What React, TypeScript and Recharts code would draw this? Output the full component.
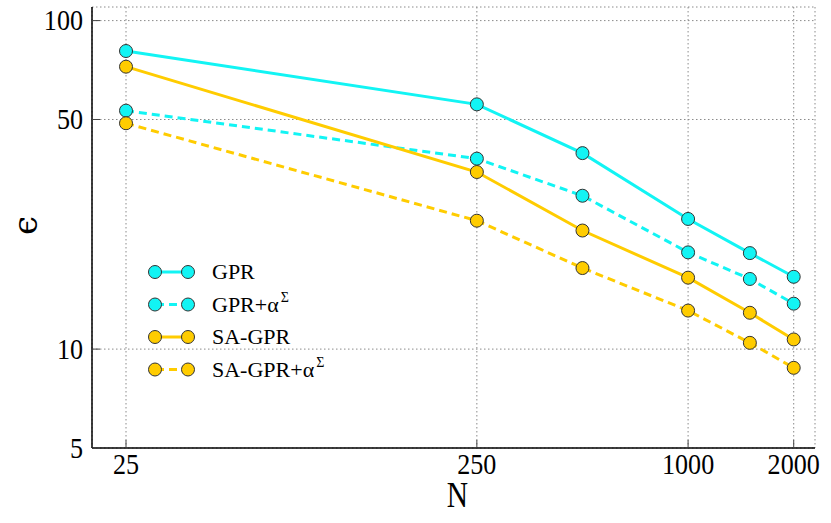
import { LineChart, Line, XAxis, YAxis, CartesianGrid, Legend } from 'recharts';

// training-set sizes and errors for each model
const sizes = [25, 250, 500, 1000, 1500, 2000];
const gpr = [80.8, 55.6, 39.5, 24.9, 19.6, 16.6];
const gprAlpha = [53.2, 38.0, 29.3, 19.7, 16.35, 13.75];
const saGpr = [72.4, 34.6, 22.96, 16.5, 12.9, 10.7];
const saGprAlpha = [48.7, 24.6, 17.65, 13.1, 10.45, 8.77];

const xTicks = [25, 250, 1000, 2000];
const xMinorTicks = [30, 40, 50, 60, 70, 80, 90, 200, 300, 400, 500, 600, 700, 800, 900];
const yTicks = [5, 10, 50, 100];
const yMinorTicks = [6, 7, 8, 9, 20, 30, 40, 60, 70, 80, 90];

const xDomain = [20, 2300];
const yDomain = [5, 110];

const CYAN = '#12f4f4';
const GOLD = '#ffcc00';
const SERIF = '"Liberation Serif", "DejaVu Serif", serif';

const series = [
    { key: 'gpr', label: 'GPR', sup: '', color: CYAN, dash: undefined as string | undefined },
    { key: 'gprAlpha', label: 'GPR+α', sup: 'Σ', color: CYAN, dash: '8 5' },
    { key: 'saGpr', label: 'SA-GPR', sup: '', color: GOLD, dash: undefined as string | undefined },
    { key: 'saGprAlpha', label: 'SA-GPR+α', sup: 'Σ', color: GOLD, dash: '8 5' },
];

const rows = sizes.map((n, i) => ({
    n,
    gpr: gpr[i],
    gprAlpha: gprAlpha[i],
    saGpr: saGpr[i],
    saGprAlpha: saGprAlpha[i],
}));

// eslint-disable-next-line @typescript-eslint/no-explicit-any
function AxisTick(props: any) {
    const { x, y, payload, textAnchor, side } = props;
    return (
        <text
            transform={`translate(${x},${y}) scale(0.9,1)`}
            textAnchor={textAnchor}
            dy={side === 'bottom' ? '0.72em' : '0.34em'}
            fill="#000"
            fontFamily={SERIF}
            fontSize={29}
        >
            {payload.value}
        </text>
    );
}

// eslint-disable-next-line @typescript-eslint/no-explicit-any
function YTitle(props: any) {
    const vb = props.viewBox || { x: 0, y: 0, width: 0, height: 0 };
    const cx = vb.x + 37;
    const cy = vb.y + vb.height / 2 - 2;
    return (
        <text
            x={cx}
            y={cy}
            transform={`rotate(-90 ${cx} ${cy})`}
            textAnchor="middle"
            fontFamily='"DejaVu Serif", serif'
            fontSize={34}
            fill="#000"
        >
            ϵ
        </text>
    );
}

// eslint-disable-next-line @typescript-eslint/no-explicit-any
function XTitle(props: any) {
    const vb = props.viewBox || { x: 0, y: 0, width: 0, height: 0 };
    return (
        <text
            transform={`translate(${vb.x + vb.width / 2 + 4},${vb.y + 59}) scale(0.82,1)`}
            textAnchor="middle"
            fontFamily={SERIF}
            fontSize={36}
            fill="#000"
        >
            N
        </text>
    );
}

function LegendBox() {
    return (
        <svg width={200} height={130}>
            {series.map((s, i) => {
                const y = 17 + i * 32.5;
                return (
                    <g key={s.key}>
                        <line x1={15} x2={48} y1={y} y2={y} stroke={s.color} strokeWidth={3} strokeDasharray={s.dash} strokeDashoffset={s.dash ? -1 : 0} />
                        <circle cx={15} cy={y} r={6.5} fill={s.color} stroke="#333" strokeWidth={1} />
                        <circle cx={48} cy={y} r={6.5} fill={s.color} stroke="#333" strokeWidth={1} />
                        <text x={72} y={y + 7} fontFamily={SERIF} fontSize={22} fill="#000">
                            {s.label}
                            {s.sup && (
                                <tspan dy={-10} dx={2} fontSize={14}>
                                    {s.sup}
                                </tspan>
                            )}
                        </text>
                    </g>
                );
            })}
        </svg>
    );
}

const axisBase = {
    type: 'number' as const,
    scale: 'log' as const,
    allowDataOverflow: true,
    interval: 0 as const,
};

export default function App() {
    const frame = { stroke: '#000', strokeWidth: 1.5 };
    const tickStroke = { stroke: '#444', strokeWidth: 1 };
    return (
        <div style={{ position: 'absolute', left: 0, top: 0, width: 831, height: 523, background: '#fff' }}>
            <LineChart width={831} height={523} data={rows} margin={{ top: 7, right: 16, bottom: 0, left: 0 }}>
                {/* zero-size axes first so they sit on the frame edges */}
                <XAxis xAxisId="xMinor" dataKey="n" {...axisBase} domain={xDomain} ticks={xMinorTicks} tick={false} tickSize={-4} tickLine={tickStroke} axisLine={false} height={0} />
                <XAxis xAxisId="xTop" orientation="top" dataKey="n" {...axisBase} domain={xDomain} ticks={xTicks} tick={false} tickSize={-8} tickLine={tickStroke} axisLine={frame} height={0} />
                <XAxis xAxisId="xTopMinor" orientation="top" dataKey="n" {...axisBase} domain={xDomain} ticks={xMinorTicks} tick={false} tickSize={-4} tickLine={tickStroke} axisLine={false} height={0} />
                <XAxis
                    xAxisId="x"
                    dataKey="n"
                    {...axisBase}
                    domain={xDomain}
                    ticks={xTicks}
                    tickSize={-8}
                    tickMargin={13}
                    tickLine={tickStroke}
                    axisLine={frame}
                    height={75}
                    tick={<AxisTick side="bottom" />}
                    label={<XTitle />}
                />
                <YAxis yAxisId="yMinor" {...axisBase} domain={yDomain} ticks={yMinorTicks} tick={false} tickSize={-4} tickLine={tickStroke} axisLine={false} width={0} />
                <YAxis yAxisId="yRight" orientation="right" {...axisBase} domain={yDomain} ticks={yTicks} tick={false} tickSize={-8} tickLine={tickStroke} axisLine={frame} width={0} />
                <YAxis yAxisId="yRightMinor" orientation="right" {...axisBase} domain={yDomain} ticks={yMinorTicks} tick={false} tickSize={-4} tickLine={tickStroke} axisLine={false} width={0} />
                <YAxis
                    yAxisId="y"
                    {...axisBase}
                    domain={yDomain}
                    ticks={yTicks}
                    tickSize={-8}
                    tickMargin={17}
                    tickLine={tickStroke}
                    axisLine={frame}
                    width={92}
                    tick={<AxisTick side="left" />}
                    label={<YTitle />}
                />
                <CartesianGrid xAxisId="x" yAxisId="y" stroke="#8a8a8a" strokeDasharray="1.5 2.5" />
                {series.map((s) => (
                    <Line
                        key={s.key}
                        xAxisId="x"
                        yAxisId="y"
                        dataKey={s.key}
                        stroke={s.color}
                        strokeWidth={3}
                        strokeDasharray={s.dash}
                        dot={{ r: 6.5, fill: s.color, stroke: '#333', strokeWidth: 1, strokeDasharray: '' }}
                        isAnimationActive={false}
                    />
                ))}
                <Legend
                    layout="vertical"
                    align="center"
                    verticalAlign="middle"
                    content={<LegendBox />}
                    wrapperStyle={{ left: 140, top: 255, width: 200, height: 130 }}
                />
            </LineChart>
        </div>
    );
}
